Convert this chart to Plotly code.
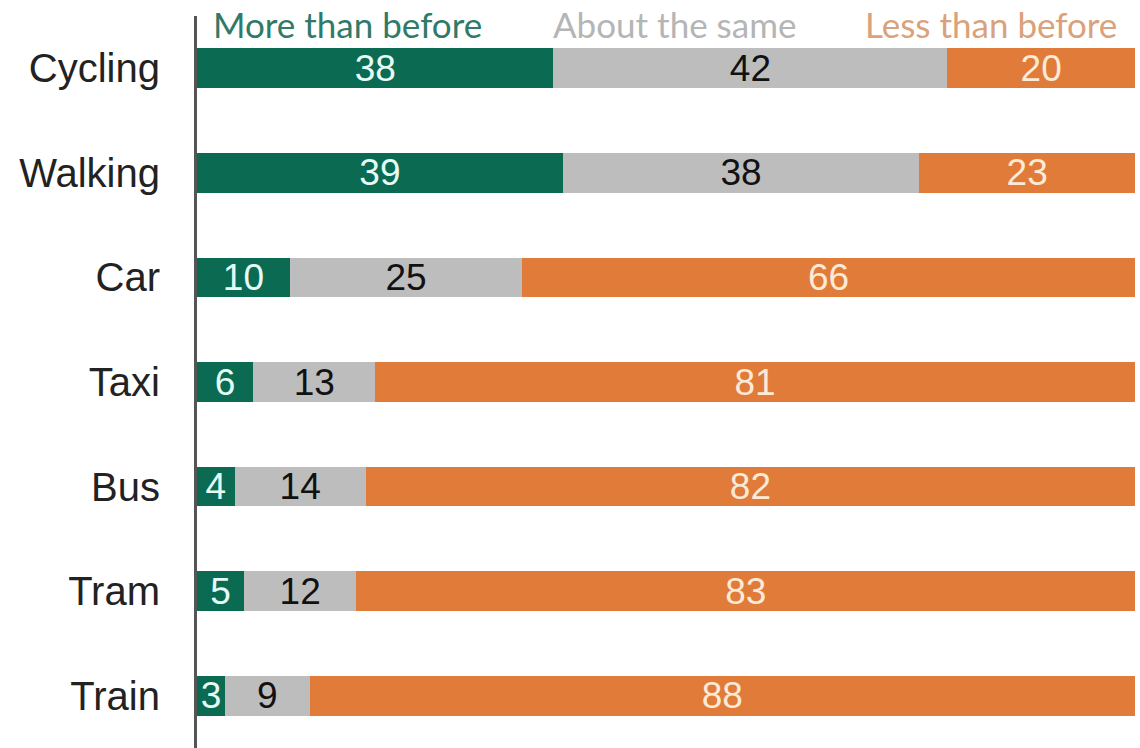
import plotly.graph_objects as go

categories = ["Cycling", "Walking", "Car", "Taxi", "Bus", "Tram", "Train"]
more = [38, 39, 10, 6, 4, 5, 3]
same = [42, 38, 25, 13, 14, 12, 9]
less = [20, 23, 66, 81, 82, 83, 88]
series_names = ["More than before", "About the same", "Less than before"]

colors = ["#0a6b52", "#bdbdbd", "#e07b3a"]
text_colors = ["#e6fbf6", "#111111", "#fbead6"]
header_colors = ["#2f7a68", "#b5b5b5", "#d9a27c"]

fig = go.Figure()
for vals, name, c, tc in zip([more, same, less], series_names, colors, text_colors):
    fig.add_trace(go.Bar(
        y=categories, x=vals, name=name, orientation="h",
        marker=dict(color=c, line=dict(width=0)),
        text=[str(v) for v in vals], textposition="inside",
        insidetextanchor="middle", textangle=0, constraintext="none",
        textfont=dict(family="Liberation Sans, Arial", size=37, color=tc),
        hoverinfo="skip",
    ))

fig.update_layout(
    barmode="stack", barnorm="percent", bargap=0.62,
    width=1140, height=748,
    margin=dict(l=197, r=5, t=16, b=0, autoexpand=False),
    plot_bgcolor="white", paper_bgcolor="white",
    showlegend=False,
    font=dict(family="Liberation Sans, Arial", color="#222222"),
)
fig.update_xaxes(range=[0, 100], visible=False, fixedrange=True, automargin=False)
fig.update_yaxes(
    autorange="reversed", showline=True, linecolor="#555555", linewidth=3,
    showgrid=False, ticks="", ticklabelstandoff=26, automargin=False,
    tickfont=dict(family="Liberation Sans, Arial", size=40, color="#222222"),
)

header_x = [1.5, 37.7, 71.0]
for name, hx, hc in zip(series_names, header_x, header_colors):
    fig.add_annotation(
        x=hx, xref="x", y=1, yref="paper", yshift=-8, yanchor="middle",
        xanchor="left", text=name, showarrow=False,
        font=dict(family="Lato", size=35, color=hc),
    )

fig.write_html(
    "out.html",
    config={"displayModeBar": False},
    post_script="document.body.style.margin='0';document.body.style.overflow='hidden';",
)
